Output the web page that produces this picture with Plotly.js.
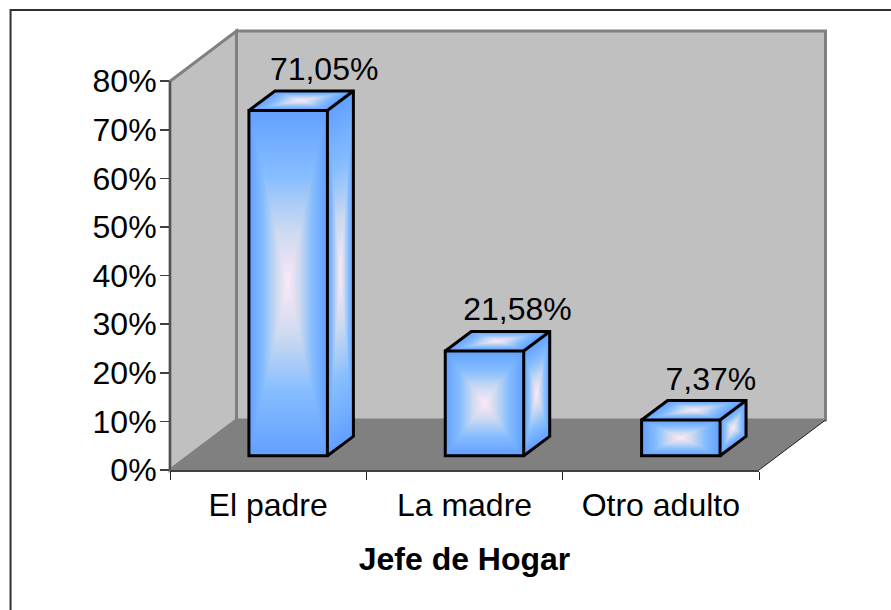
<!DOCTYPE html>
<html>
<head>
<meta charset="utf-8">
<script src="https://cdn.plot.ly/plotly-3.0.1.min.js"></script>
<style>html,body{margin:0;padding:0;background:#fff;overflow:hidden}#chart{width:891px;height:610px}</style>
</head>
<body>
<div id="chart"></div>
<script>
// ---- data ----
var categories = ['El padre', 'La madre', 'Otro adulto'];
var shares = [71.05, 21.58, 7.37];
var shareLabels = ['71,05%', '21,58%', '7,37%'];
var yTicks = [0, 10, 20, 30, 40, 50, 60, 70, 80];
var yTickLabels = ['0%', '10%', '20%', '30%', '40%', '50%', '60%', '70%', '80%'];

// ---- layout geometry ----
var W = 891, H = 610;
var M = {l: 169.5, r: 132.3, t: 31, b: 139.5};
var plotW = W - M.l - M.r, plotH = H - M.t - M.b;
var pxPerCat = plotW / 3;
var pxPerPct = 4.865;
var yTop = plotH / pxPerPct;

var wallDX = 66.5 / plotW, wallDY = 50 / plotH;      // paper-unit depth of the box
var barW = 78.5 / pxPerCat;                          // category units
var barDX = 26 / pxPerCat, barDY = 19.5 / pxPerPct;  // bar depth
var shiftX = 20 / pxPerCat, baseY = 14.2 / pxPerPct; // bar seat on the floor
var labelShiftPx = [36, 33, 30];                     // data-label offset from the bar centre
var labelRisePx = 38.5;

var FONT = 'Liberation Sans, Arial, sans-serif';
var TXT = 32;

// ---- gradient faces ----
var stops = [[0, [254, 232, 246]], [0.3, [205, 218, 240]], [0.62, [135, 190, 255]], [1, [98, 160, 255]]];
function ramp(t) {
  for (var i = 1; i < stops.length; i++) {
    if (t <= stops[i][0]) {
      var a = stops[i - 1], b = stops[i], f = (t - a[0]) / (b[0] - a[0]);
      return [0, 1, 2].map(function (k) { return a[1][k] + (b[1][k] - a[1][k]) * f; });
    }
  }
  return stops[stops.length - 1][1];
}
// parallelogram with edge vectors (ax,ay) and (sx,sy), in px
function faceImage(ax, ay, sx, sy) {
  var w = Math.max(1, Math.ceil(Math.abs(ax) + Math.abs(sx)));
  var h = Math.max(1, Math.ceil(Math.abs(ay) + Math.abs(sy)));
  var c = document.createElement('canvas');
  c.width = w; c.height = h;
  var g = c.getContext('2d'), img = g.createImageData(w, h);
  var det = ax * sy - ay * sx;
  var oy = Math.max(0, -ay, -sy);
  var tolU = 0.5 / Math.hypot(ax, ay), tolV = 0.5 / Math.hypot(sx, sy);
  for (var j = 0; j < h; j++) for (var i = 0; i < w; i++) {
    var px = i + 0.5, py = j + 0.5 - oy;
    var u = (px * sy - py * sx) / det, v = (ax * py - ay * px) / det;
    var idx = 4 * (j * w + i);
    if (u < -tolU || u > 1 + tolU || v < -tolV || v > 1 + tolV) { img.data[idx + 3] = 0; continue; }
    var t = Math.min(1, Math.max(Math.abs(2 * u - 1), Math.abs(2 * v - 1)));
    var col = ramp(t);
    img.data[idx] = col[0]; img.data[idx + 1] = col[1]; img.data[idx + 2] = col[2]; img.data[idx + 3] = 255;
  }
  g.putImageData(img, 0, 0);
  return c.toDataURL('image/png');
}

var images = [], traces = [];
var barX = categories.map(function (_, i) { return i + shiftX; });

categories.forEach(function (_, i) {
  var xl = barX[i] - barW / 2, xr = barX[i] + barW / 2;
  var yb = baseY, yt = baseY + shares[i];
  var hPx = shares[i] * pxPerPct, wPx = barW * pxPerCat;
  var dxPx = barDX * pxPerCat, dyPx = barDY * pxPerPct;
  // front
  images.push({source: faceImage(wPx, 0, 0, hPx), xref: 'x', yref: 'y', x: xl, y: yt,
    sizex: barW, sizey: shares[i], xanchor: 'left', yanchor: 'top', sizing: 'stretch', layer: 'below'});
  // right side
  images.push({source: faceImage(dxPx, -dyPx, 0, hPx), xref: 'x', yref: 'y', x: xr, y: yt + barDY,
    sizex: barDX, sizey: shares[i] + barDY, xanchor: 'left', yanchor: 'top', sizing: 'stretch', layer: 'below'});
  // top
  images.push({source: faceImage(wPx, 0, dxPx, -dyPx), xref: 'x', yref: 'y', x: xl, y: yt + barDY,
    sizex: barW + barDX, sizey: barDY, xanchor: 'left', yanchor: 'top', sizing: 'stretch', layer: 'below'});
  // outline of top + side
  traces.push({
    type: 'scatter', mode: 'lines', showlegend: false, hoverinfo: 'skip',
    x: [xl, xl + barDX, xr + barDX, xr + barDX, xr, null, xr, xr + barDX],
    y: [yt, yt + barDY, yt + barDY, yb + barDY, yb, null, yt, yt + barDY],
    line: {color: '#000', width: 3}, cliponaxis: false
  });
});

traces.unshift({
  type: 'bar', x: barX, y: shares, base: baseY, width: barW, name: 'Jefe de Hogar',
  marker: {color: 'rgba(0,0,0,0)', line: {color: '#000', width: 3}},
  hovertemplate: '%{text}<extra></extra>', text: shareLabels, textposition: 'none'
});
traces.push({
  type: 'scatter', mode: 'text', showlegend: false, hoverinfo: 'skip',
  x: barX.map(function (x, i) { return x + labelShiftPx[i] / pxPerCat; }),
  y: shares.map(function (v) { return baseY + v + labelRisePx / pxPerPct; }),
  text: shareLabels, textposition: 'middle center', cliponaxis: false,
  textfont: {family: FONT, size: TXT, color: '#000'}
});

function poly(pts) {
  return 'M' + pts.map(function (p) { return p[0] + ',' + p[1]; }).join('L') + 'Z';
}
var yTopAxis = 80 * pxPerPct / plotH;
var frameX = (10 - M.l) / plotW, frameY = (H - M.b - 10) / plotH;
var frameBottom = (H - M.b - H - 10) / plotH, frameRight = (W + 10 - M.l) / plotW;
var shapes = [
  // back wall
  {type: 'path', xref: 'paper', yref: 'paper', layer: 'below',
   path: poly([[wallDX, wallDY], [wallDX, 1], [1 + wallDX, 1], [1 + wallDX, wallDY]]),
   fillcolor: '#C0C0C0', line: {color: '#808080', width: 3}},
  // left wall
  {type: 'path', xref: 'paper', yref: 'paper', layer: 'below',
   path: poly([[0, 0], [0, yTopAxis], [wallDX, 1], [wallDX, wallDY]]),
   fillcolor: '#C0C0C0', line: {color: '#808080', width: 3}},
  // floor
  {type: 'path', xref: 'paper', yref: 'paper', layer: 'below',
   path: poly([[0, 0], [wallDX, wallDY], [1 + wallDX, wallDY], [1, 0]]),
   fillcolor: '#808080', line: {width: 0}},
  // floor right edge
  {type: 'line', xref: 'paper', yref: 'paper', layer: 'below', x0: 1, y0: 0, x1: 1 + wallDX, y1: wallDY,
   line: {color: '#202020', width: 1}},
  // value axis line
  {type: 'line', xref: 'paper', yref: 'paper', layer: 'below', x0: 0, y0: 0, x1: 0, y1: yTopAxis,
   line: {color: '#505050', width: 2}},
  // chart frame: only the left and top edges fall inside the picture
  {type: 'path', xref: 'paper', yref: 'paper', layer: 'below',
   path: 'M' + frameX + ',' + frameBottom + 'L' + frameX + ',' + frameY + 'L' + frameRight + ',' + frameY,
   line: {color: '#303030', width: 2}}
];

var layout = {
  width: W, height: H, margin: M, autosize: false, showlegend: false,
  paper_bgcolor: '#fff', plot_bgcolor: 'rgba(0,0,0,0)',
  font: {family: FONT, size: TXT, color: '#000'},
  xaxis: {
    range: [-0.5, 2.5], tickmode: 'array', tickvals: [0, 1, 2], ticktext: categories,
    ticks: '', showgrid: false, zeroline: false, showline: true, linecolor: '#404040', linewidth: 2,
    tickfont: {family: FONT, size: TXT, color: '#000'}, ticklabelstandoff: 6,
    minor: {tickmode: 'array', tickvals: [-0.5, 0.5, 1.5, 2.5], ticks: 'outside', ticklen: 8, tickwidth: 1, tickcolor: '#202020', showgrid: false},
    title: {text: '<b>Jefe de Hogar</b>', standoff: 25, font: {family: FONT, size: TXT, color: '#000'}}
  },
  yaxis: {
    range: [0, yTop], tickmode: 'array', tickvals: yTicks, ticktext: yTickLabels,
    ticks: 'outside', ticklen: 9, tickwidth: 1.5, tickcolor: '#404040',
    showgrid: false, zeroline: false, showline: false, ticklabelstandoff: -3,
    tickfont: {family: FONT, size: TXT, color: '#000'}
  },
  shapes: shapes, images: images, bargap: 0
};
Plotly.newPlot('chart', traces, layout, {displayModeBar: false, staticPlot: true});
</script>
</body>
</html>
